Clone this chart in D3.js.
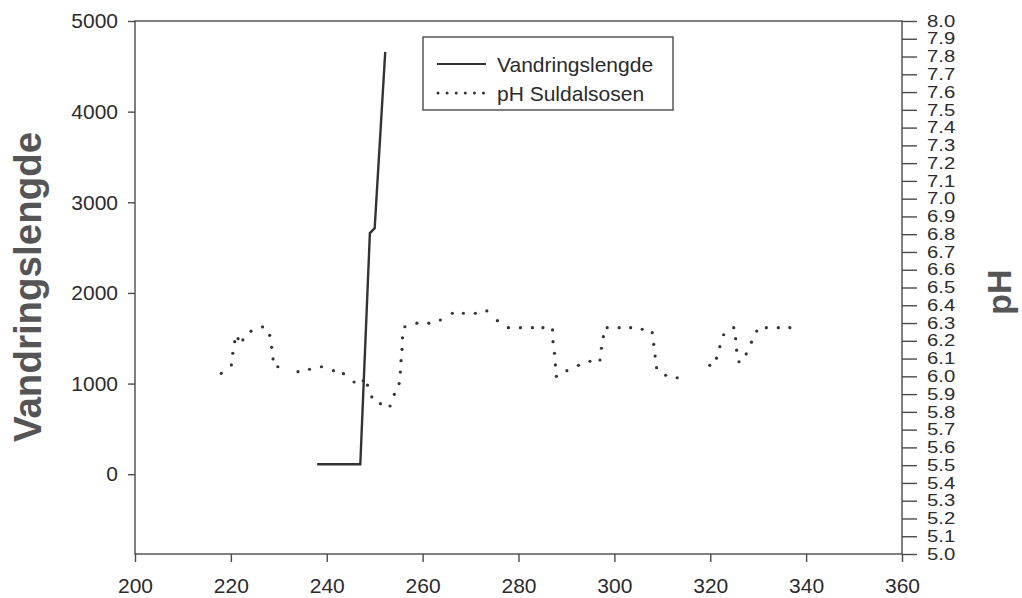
<!DOCTYPE html>
<html>
<head>
<meta charset="utf-8">
<script src="https://cdn.jsdelivr.net/npm/d3@7/dist/d3.min.js"></script>
<style>
  html, body { margin: 0; padding: 0; background: #fff; }
  svg { display: block; font-family: "Liberation Sans", Arial, Helvetica, sans-serif; }
</style>
</head>
<body>
<svg id="chart" width="1022" height="598"></svg>
<script>
// ---- data ----
const xTicks = [200, 220, 240, 260, 280, 300, 320, 340, 360];
const leftTicks = [0, 1000, 2000, 3000, 4000, 5000];
const rightTicks = ["5.0","5.1","5.2","5.3","5.4","5.5","5.6","5.7","5.8","5.9",
                    "6.0","6.1","6.2","6.3","6.4","6.5","6.6","6.7","6.8","6.9",
                    "7.0","7.1","7.2","7.3","7.4","7.5","7.6","7.7","7.8","7.9","8.0"];

// Vandringslengde (solid line)
const vandDays   = [238, 247, 249, 250, 252.2];
const vandValues = [110, 110, 2660, 2715, 4660];

// pH Suldalsosen (dotted line, read dot by dot)
const phDays = [
  218.0, 220.1, 220.4, 220.8, 221.5, 222.5, 224.2, 226.6, 228.1, 228.5, 228.8, 229.8,
  234.0, 236.4, 238.9, 241.4, 243.5, 245.7, 247.6, 248.5, 249.4, 251.2, 253.2, 254.1,
  255.1, 255.35, 255.5, 255.7, 255.8, 256.3, 258.8, 261.3, 263.7, 266.2, 268.5, 271.0,
  273.4, 275.6, 277.9, 280.4, 282.9, 285.1, 287.1, 287.2, 287.5, 287.7, 287.9, 290.1,
  292.5, 294.9, 297.0, 297.3, 297.7, 298.5, 301.0, 303.4, 305.8, 307.9, 308.2, 308.5,
  308.8, 310.7, 313.1,
  319.9, 321.3, 322.0, 322.8, 324.9, 325.3, 325.5, 326.0, 327.5, 328.6, 329.7, 331.7,
  334.2, 336.6
];
const phValues = [
  6.017, 6.064, 6.130, 6.195, 6.212, 6.205, 6.254, 6.278, 6.231, 6.163, 6.098, 6.054,
  6.026, 6.040, 6.054, 6.032, 6.015, 5.968, 5.975, 5.950, 5.884, 5.846, 5.833, 5.899,
  5.959, 6.024, 6.088, 6.152, 6.217, 6.279, 6.299, 6.299, 6.317, 6.355, 6.355, 6.355,
  6.368, 6.313, 6.274, 6.274, 6.274, 6.274, 6.261, 6.195, 6.130, 6.064, 6.000, 6.032,
  6.062, 6.085, 6.092, 6.158, 6.223, 6.274, 6.274, 6.274, 6.265, 6.246, 6.180, 6.114,
  6.049, 6.006, 5.992,
  6.062, 6.102, 6.167, 6.234, 6.274, 6.212, 6.147, 6.082, 6.126, 6.192, 6.255, 6.274,
  6.274, 6.274
];

const legendLabels = ["Vandringslengde", "pH Suldalsosen"];

// ---- layout ----
const plot = { left: 135, right: 902, top: 21, bottom: 554 };
const svg = d3.select("#chart");
const ink = "#2b2b2b", axisInk = "#4a4a4a", titleInk = "#555";

const x = d3.scaleLinear().domain([200, 360]).range([plot.left, plot.right]);
const yL = d3.scaleLinear().domain([-880, 5000]).range([plot.bottom, plot.top]);
const yR = d3.scaleLinear().domain([5.0, 8.0]).range([plot.bottom, plot.top]);

// frame
svg.append("rect")
  .attr("x", plot.left).attr("y", plot.top)
  .attr("width", plot.right - plot.left).attr("height", plot.bottom - plot.top)
  .attr("fill", "none").attr("stroke", axisInk).attr("stroke-width", 1.4);

// bottom axis
const gx = svg.append("g").attr("transform", `translate(0,${plot.bottom})`)
  .call(d3.axisBottom(x).tickValues(xTicks).tickSize(8).tickPadding(16).tickFormat(d3.format("d")));
gx.select(".domain").remove();
gx.selectAll("line").attr("stroke", axisInk).attr("stroke-width", 1.4);
gx.selectAll("text").attr("font-size", 21).attr("fill", ink);

// left axis
const gl = svg.append("g").attr("transform", `translate(${plot.left},0)`)
  .call(d3.axisLeft(yL).tickValues(leftTicks).tickSize(7).tickPadding(10).tickFormat(d3.format("d")));
gl.select(".domain").remove();
gl.selectAll("line").attr("stroke", axisInk).attr("stroke-width", 1.4);
gl.selectAll("text").attr("font-size", 21).attr("fill", ink);

// right axis (labels packed tightly; slightly widened to keep the reference footprint)
const gr = svg.append("g").attr("transform", `translate(${plot.right},0)`)
  .call(d3.axisRight(yR).tickValues(rightTicks.map(Number)).tickSize(15).tickPadding(10)
        .tickFormat((d, i) => rightTicks[i]));
gr.select(".domain").remove();
gr.selectAll("line").attr("stroke", axisInk).attr("stroke-width", 1.4);
gr.selectAll(".tick text")
  .attr("font-size", 15.6).attr("fill", ink)
  .attr("x", 0).attr("dy", null)
  .attr("dominant-baseline", "central")
  .attr("transform", "translate(25,0) scale(1.3,1)");

// axis titles
svg.append("text")
  .attr("transform", `translate(41,287) rotate(-90)`)
  .attr("text-anchor", "middle")
  .attr("font-size", 38.5).attr("font-weight", "bold").attr("fill", titleInk)
  .text("Vandringslengde");
svg.append("text")
  .attr("transform", `translate(1011,292) rotate(-90)`)
  .attr("text-anchor", "middle")
  .attr("font-size", 34).attr("font-weight", "bold").attr("fill", titleInk)
  .text("pH");

// solid line
const vand = vandDays.map((d, i) => [d, vandValues[i]]);
svg.append("path")
  .datum(vand)
  .attr("d", d3.line().x(d => x(d[0])).y(d => yL(d[1])))
  .attr("fill", "none").attr("stroke", "#333").attr("stroke-width", 2.4)
  .attr("stroke-linejoin", "miter");

// dotted pH
const ph = phDays.map((d, i) => [d, phValues[i]]);
svg.append("g").selectAll("circle").data(ph).join("circle")
  .attr("cx", d => x(d[0])).attr("cy", d => yR(d[1]))
  .attr("r", 1.6).attr("fill", "#333");

// legend
const lg = svg.append("g");
lg.append("rect").attr("x", 423).attr("y", 37).attr("width", 250).attr("height", 73)
  .attr("fill", "#fff").attr("stroke", axisInk).attr("stroke-width", 1.4);
lg.append("line").attr("x1", 437).attr("x2", 486).attr("y1", 64).attr("y2", 64)
  .attr("stroke", "#333").attr("stroke-width", 2);
lg.append("line").attr("x1", 438).attr("x2", 484).attr("y1", 93).attr("y2", 93)
  .attr("stroke", "#333").attr("stroke-width", 3)
  .attr("stroke-linecap", "round").attr("stroke-dasharray", "0,9.1");
lg.selectAll("text.lab").data(legendLabels).join("text")
  .attr("class", "lab")
  .attr("x", 497).attr("y", (d, i) => 72 + i * 29)
  .attr("font-size", 21).attr("fill", ink)
  .text(d => d);
</script>
</body>
</html>
